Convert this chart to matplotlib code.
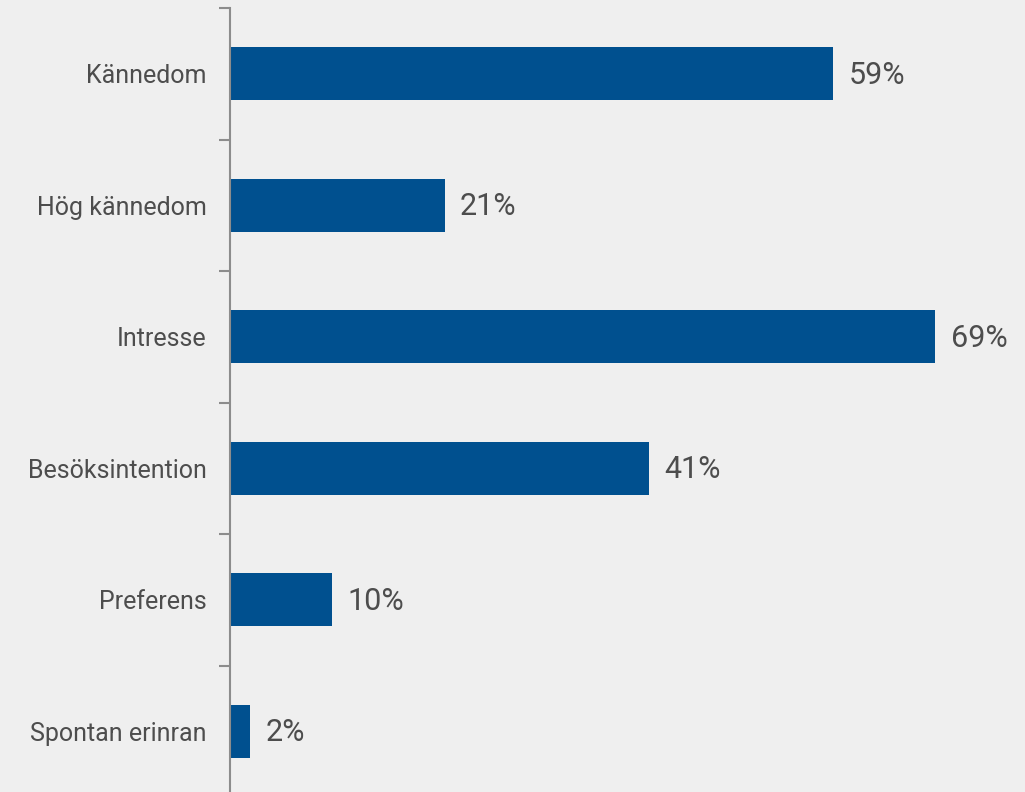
import matplotlib
matplotlib.use("Agg")
import matplotlib.pyplot as plt

# data
categories = ["Kännedom", "Hög kännedom", "Intresse", "Besöksintention", "Preferens", "Spontan erinran"]
values = [59, 21, 69, 41, 10, 2]

bg = "#efefef"
bar_color = "#00508f"
text_color = "#4d4d4d"
axis_color = "#8c8c8c"

plt.rcParams["font.family"] = ["Roboto", "DejaVu Sans"]

fig = plt.figure(figsize=(10.25, 7.92), dpi=100, facecolor=bg)
# axes: left edge at the axis line, top at first tick, bottom slightly below the figure
ax = fig.add_axes([230 / 1025, -5 / 792, 795 / 1025, 789 / 792])
ax.set_facecolor(bg)

ypos = list(range(len(categories)))
ax.barh(ypos, values, height=0.4, color=bar_color)
ax.set_ylim(len(categories) - 0.5, -0.5)
ax.set_xlim(0, 795 / 10.22)

for y, v in zip(ypos, values):
    ax.text(v + 1.5, y + 0.01, f"{v}%", va="center", ha="left", fontsize=22, color=text_color)

# category boundary ticks, labels at centers
ax.set_yticks([i - 0.5 for i in range(len(categories) + 1)])
ax.set_yticklabels([])
ax.set_yticks(ypos, minor=True)
ax.set_yticklabels(categories, minor=True, fontsize=18, color=text_color)
ax.tick_params(axis="y", which="major", length=8, width=1.5, color=axis_color)
ax.tick_params(axis="y", which="minor", length=0, pad=17)

ax.set_xticks([])
for side in ["top", "right", "bottom"]:
    ax.spines[side].set_visible(False)
ax.spines["left"].set_color(axis_color)
ax.spines["left"].set_linewidth(1.5)

fig.savefig("out.png", dpi=100, facecolor=bg)
